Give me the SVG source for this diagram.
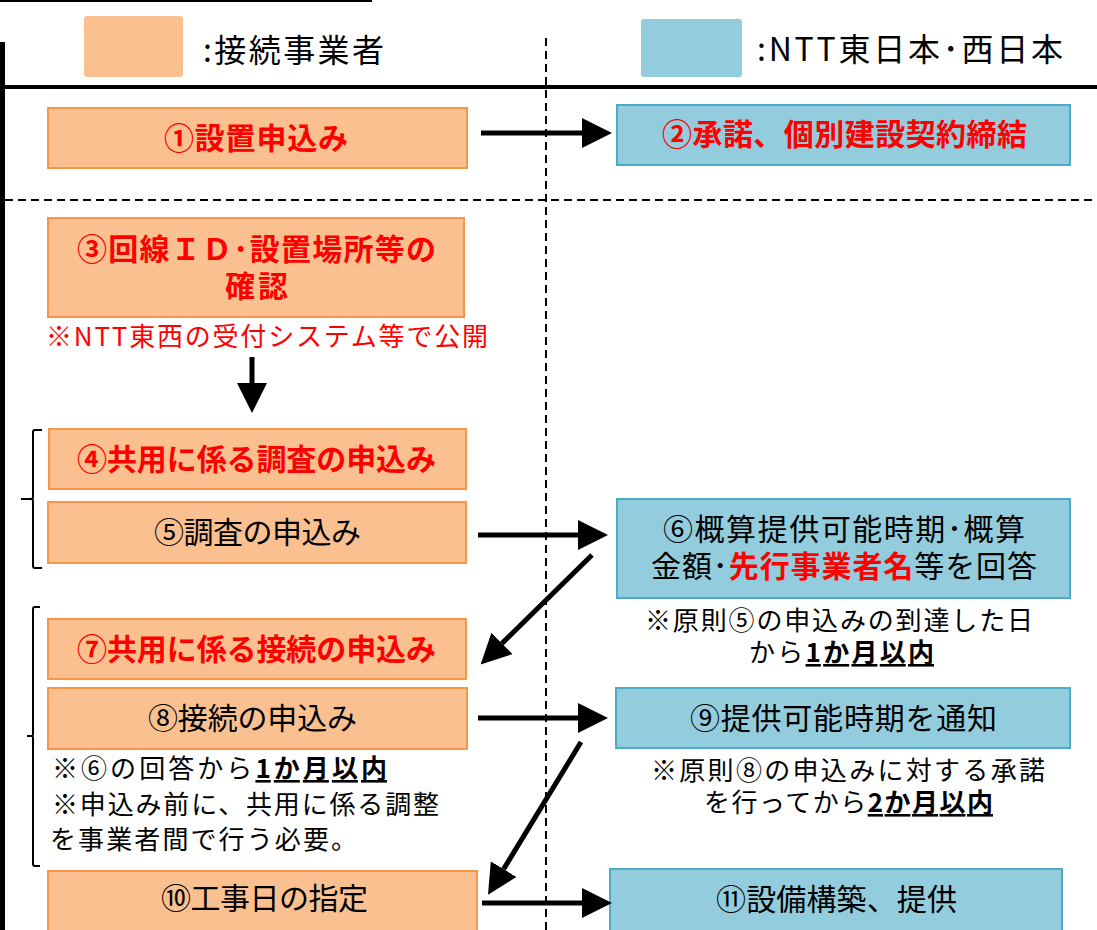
<svg xmlns="http://www.w3.org/2000/svg" width="1097" height="930" viewBox="0 0 1097 930">
<defs>
<style>
text{font-family:"Noto Sans CJK JP","Noto Sans CJK SC",sans-serif;fill:#000;}
.t30{font-size:30px;}
.t32{font-size:32px;}
.t26{font-size:26px;}
.b{font-weight:700;}
.red{fill:#FF0000;}
.u{text-decoration:underline;font-weight:700;}
.or{fill:#FAC090;stroke:#F79646;stroke-width:2;}
.bl{fill:#93CDDD;stroke:#4BACC6;stroke-width:2;}
.conn{stroke:#000;stroke-width:5;fill:none;marker-end:url(#ah);}
.brace{stroke:#000;stroke-width:2;fill:none;}
.dash{stroke:#000;stroke-width:2;stroke-dasharray:8 5;fill:none;}
</style>
<marker id="ah" markerUnits="userSpaceOnUse" markerWidth="30" markerHeight="30" refX="0" refY="14" orient="auto" viewBox="0 0 28 28">
<path d="M0,0 L28,14 L0,28 z" fill="#000"/>
</marker>
</defs>
<rect width="1097" height="930" fill="#fff"/>

<g id="frame">
<line x1="0" y1="1" x2="372" y2="1" stroke="#000" stroke-width="2"/>
<line x1="2.5" y1="42" x2="2.5" y2="930" stroke="#000" stroke-width="5"/>
<line x1="0" y1="87" x2="1097" y2="87" stroke="#000" stroke-width="4"/>
<line class="dash" x1="5" y1="200" x2="1097" y2="200"/>
<line class="dash" x1="546" y1="38" x2="546" y2="930" stroke-dasharray="7 5"/>
</g>

<g id="legend">
<rect x="84" y="16" width="99" height="61" rx="3" fill="#FAC090"/>
<text class="t32" x="203" y="62" textLength="181" lengthAdjust="spacing">:接続事業者</text>
<rect x="641" y="19" width="101" height="58" rx="3" fill="#93CDDD"/>
<text class="t32" x="757" y="61" textLength="306" lengthAdjust="spacing">:NTT東日本･西日本</text>
</g>

<g id="n1">
<rect class="or" x="48" y="108" width="419" height="60"/>
<text class="t30 b red" x="164" y="149" textLength="184" lengthAdjust="spacing">①設置申込み</text>
</g>
<g id="n2">
<rect class="bl" x="617" y="105" width="453" height="60"/>
<text class="t30 b red" x="662" y="145" textLength="365" lengthAdjust="spacing">②承諾、個別建設契約締結</text>
</g>
<g id="n3">
<rect class="or" x="48" y="218" width="416" height="99"/>
<text class="t30 b red" x="77" y="260" textLength="359" lengthAdjust="spacing">③回線ＩＤ･設置場所等の</text>
<text class="t30 b red" x="225" y="297" textLength="63" lengthAdjust="spacing">確認</text>
<text class="t26 red" x="46" y="346" textLength="442" lengthAdjust="spacing">※NTT東西の受付システム等で公開</text>
</g>
<g id="n4">
<rect class="or" x="49" y="429" width="417" height="60"/>
<text class="t30 b red" x="77" y="470" textLength="359" lengthAdjust="spacing">④共用に係る調査の申込み</text>
</g>
<g id="n5">
<rect class="or" x="48" y="502" width="418" height="61"/>
<text class="t30" x="154" y="543" textLength="207" lengthAdjust="spacing">⑤調査の申込み</text>
</g>
<g id="n6">
<rect class="bl" x="617" y="499" width="453" height="99"/>
<text class="t30" x="663" y="540" textLength="362" lengthAdjust="spacing">⑥概算提供可能時期･概算</text>
<text class="t30" x="651" y="577" textLength="386" lengthAdjust="spacing">金額･<tspan class="b red">先行事業者名</tspan>等を回答</text>
<text class="t26" x="645" y="630" textLength="388" lengthAdjust="spacing">※原則⑤の申込みの到達した日</text>
<text class="t26" x="749" y="662" textLength="185" lengthAdjust="spacing">から<tspan class="u">1か月以内</tspan></text>
</g>
<g id="n7">
<rect class="or" x="48" y="619" width="418" height="60"/>
<text class="t30 b red" x="77" y="660" textLength="359" lengthAdjust="spacing">⑦共用に係る接続の申込み</text>
</g>
<g id="n8">
<rect class="or" x="48" y="688" width="419" height="61"/>
<text class="t30" x="148" y="729" textLength="209" lengthAdjust="spacing">⑧接続の申込み</text>
<text class="t26" x="52" y="778" textLength="335" lengthAdjust="spacing">※⑥の回答から<tspan class="u">1か月以内</tspan></text>
<text class="t26" x="52" y="814" textLength="387" lengthAdjust="spacing">※申込み前に、共用に係る調整</text>
<text class="t26" x="50" y="849" textLength="307" lengthAdjust="spacing">を事業者間で行う必要。</text>
</g>
<g id="n9">
<rect class="bl" x="616" y="688" width="454" height="60"/>
<text class="t30" x="690" y="729" textLength="307" lengthAdjust="spacing">⑨提供可能時期を通知</text>
<text class="t26" x="651" y="780" textLength="394" lengthAdjust="spacing">※原則⑧の申込みに対する承諾</text>
<text class="t26" x="704" y="812" textLength="289" lengthAdjust="spacing">を行ってから<tspan class="u">2か月以内</tspan></text>
</g>
<g id="n10">
<rect class="or" x="48" y="871" width="429" height="62"/>
<text class="t30" x="161" y="909" textLength="207" lengthAdjust="spacing">⑩工事日の指定</text>
</g>
<g id="n11">
<rect class="bl" x="610" y="869" width="452" height="62"/>
<text class="t30" x="716" y="910" textLength="241" lengthAdjust="spacing">⑪設備構築、提供</text>
</g>

<g id="braces">
<path class="brace" d="M42,430 H35 Q33,430 33,432 V497 Q33,499 31,499 H21 M31,499 Q33,499 33,501 V566 Q33,568 35,568 H42"/>
<path class="brace" d="M40,607 H35 Q33,607 33,609 V734 Q33,736 31,736 H27 M31,736 Q33,736 33,738 V864 Q33,866 35,866 H40"/>
</g>

<g id="connectors">
<line class="conn" x1="481" y1="133" x2="582" y2="133"/>
<line class="conn" x1="252" y1="357" x2="252" y2="383"/>
<line class="conn" x1="478" y1="535" x2="578" y2="535"/>
<line class="conn" x1="592" y1="555" x2="502" y2="643.4"/>
<line class="conn" x1="478" y1="718" x2="578" y2="718"/>
<line class="conn" x1="581" y1="742" x2="503.6" y2="869.1"/>
<line class="conn" x1="482" y1="903" x2="582" y2="903"/>
</g>
</svg>
